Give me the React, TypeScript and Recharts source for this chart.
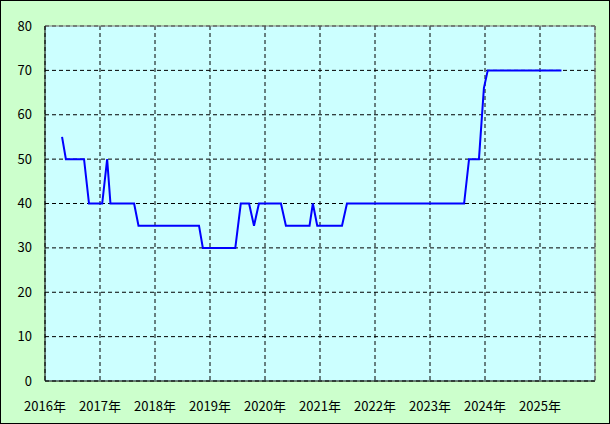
import { LineChart, Line, XAxis, YAxis, CartesianGrid, ReferenceLine } from "recharts";

// x positions are fractional years
const years = [
  2016.31, 2016.38, 2016.71, 2016.8, 2017.04, 2017.13, 2017.19, 2017.62, 2017.7,
  2018.8, 2018.87, 2019.46, 2019.56, 2019.71, 2019.8, 2019.89, 2020.29, 2020.38,
  2020.81, 2020.87, 2020.95, 2021.4, 2021.49, 2023.62, 2023.71, 2023.89, 2023.98,
  2024.05, 2025.39,
];
const values = [
  55, 50, 50, 40, 40, 50, 40, 40, 35,
  35, 30, 30, 40, 40, 35, 40, 40, 35,
  35, 40, 35, 35, 40, 40, 50, 50, 66,
  70, 70,
];
const xTicks = [2016, 2017, 2018, 2019, 2020, 2021, 2022, 2023, 2024, 2025];
const yTicks = [0, 10, 20, 30, 40, 50, 60, 70, 80];

const data = years.map((y, i) => ({ t: y, v: values[i] }));

const font = { fontFamily: "'Noto Sans CJK JP', sans-serif", fontSize: 13, fill: "#000" };

export default function App() {
  return (
    <div style={{ position: "absolute", left: 0, top: 0, width: 610, height: 424, background: "#ccffcc" }}>
      <LineChart width={610} height={424} data={data} margin={{ top: 26, right: 15, left: 0, bottom: 0 }}>
        <CartesianGrid fill="#ccffff" stroke="#000" strokeDasharray="4 3" />
        <XAxis
          dataKey="t"
          type="number"
          domain={[2016, 2026]}
          ticks={[...xTicks, 2026]}
          tickFormatter={(v) => (v === 2026 ? "" : `${v}年`)}
          tickLine={false}
          tickMargin={15}
          height={43}
          axisLine={{ stroke: "#000" }}
          tick={font}
          interval={0}
        />
        <YAxis
          type="number"
          domain={[0, 80]}
          ticks={yTicks}
          tickLine={false}
          tickMargin={7}
          width={45}
          axisLine={{ stroke: "#000" }}
          tick={font}
          interval={0}
        />
        <ReferenceLine y={80} stroke="#808080" />
        <ReferenceLine x={2026} stroke="#808080" />
        <Line type="linear" dataKey="v" stroke="#0000ff" strokeWidth={2} dot={false} isAnimationActive={false} />
      </LineChart>
      <div style={{ position: "absolute", left: 0, top: 0, width: 610, height: 424, boxSizing: "border-box", border: "1px solid #000", pointerEvents: "none" }} />
    </div>
  );
}
